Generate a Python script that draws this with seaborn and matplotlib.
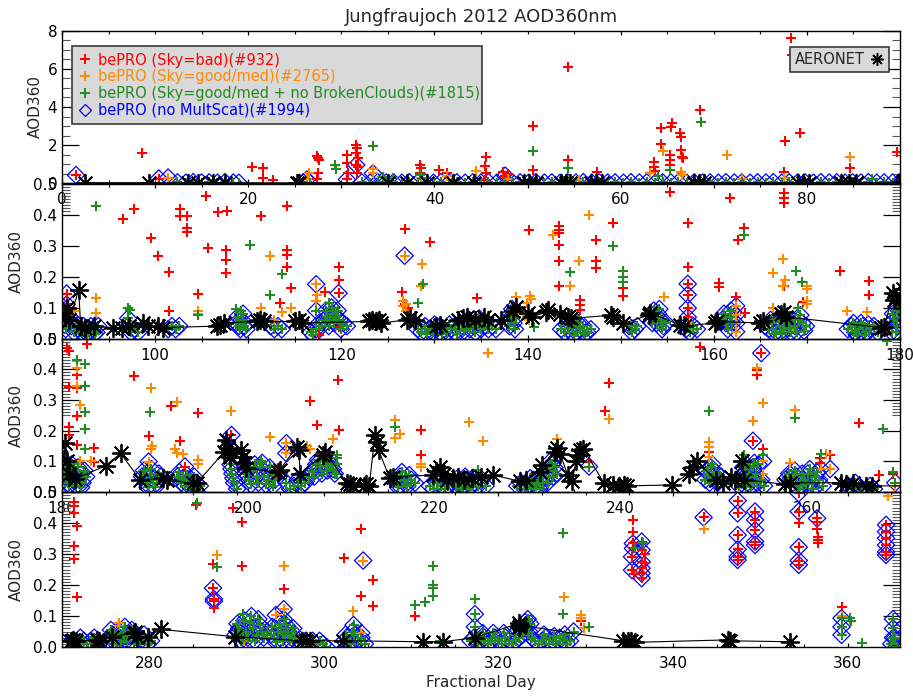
import numpy as np
import pandas as pd
import matplotlib
matplotlib.use("Agg")
import matplotlib.pyplot as plt
import seaborn as sns
from matplotlib.lines import Line2D
from matplotlib.ticker import MultipleLocator, FixedLocator, FormatStrFormatter

# ---------------------------------------------------------------------------
# AOD at 360 nm, Jungfraujoch 2012, (fractional day, AOD) pairs
# ---------------------------------------------------------------------------

# bePRO, Sky = bad
bad_q1 = [(8.6, 1.57), (20.4, 0.87), (21.6, 0.79), (21.6, 0.29), (22.7, 0.17),
          (27.4, 1.45), (27.5, 1.32), (27.6, 1.22), (27.5, 0.52), (27.4, 0.2),
          (30.6, 1.48), (30.6, 1.05), (30.7, 0.52), (31.6, 2.0), (31.7, 1.83),
          (31.6, 1.57), (31.8, 1.31), (31.8, 0.87), (31.7, 0.52), (38.5, 0.96),
          (38.6, 0.79), (38.5, 0.52), (40.5, 0.7), (41.4, 0.52), (45.5, 1.39),
          (45.4, 0.92), (45.5, 0.52), (45.4, 0.17), (47.4, 0.6), (47.9, 0.5),
          (47.8, 0.3), (50.6, 3.0), (50.6, 0.7), (54.3, 6.11), (54.3, 1.22),
          (57.5, 0.6), (63.6, 1.13), (63.6, 0.87), (63.7, 0.66), (64.3, 2.88),
          (64.3, 2.06), (65.5, 3.14), (65.4, 2.95), (65.3, 1.48), (65.3, 1.22),
          (65.3, 0.96), (66.4, 2.62), (66.5, 2.44), (66.5, 1.75), (66.6, 1.39),
          (66.7, 1.31), (68.5, 3.84), (77.6, 2.23), (77.5, 0.6), (78.3, 7.6),
          (78.4, 6.72), (79.3, 2.65), (84.6, 0.79), (89.7, 1.62)]
bad_q2 = [(105.5, 0.461), (97.7, 0.418), (96.6, 0.386), (102.7, 0.418), (102.7, 0.394),
          (103.4, 0.394), (103.4, 0.357), (103.4, 0.342), (106.8, 0.407), (107.7, 0.41),
          (99.6, 0.324), (100.3, 0.267), (101.5, 0.216), (105.7, 0.292), (107.6, 0.284),
          (107.6, 0.254), (107.6, 0.211), (104.6, 0.144), (101.5, 0.09), (111.4, 0.394),
          (114.2, 0.429), (114.2, 0.284), (114.2, 0.27), (114.2, 0.23), (114.6, 0.162),
          (113.4, 0.114), (118.2, 0.151), (119.7, 0.23), (119.7, 0.189), (119.7, 0.038),
          (126.8, 0.353), (129.5, 0.31), (126.5, 0.151), (126.8, 0.11), (127.2, 0.1),
          (90.6, 0.05), (117.6, 0.01), (140.2, 0.351), (143.4, 0.362), (143.4, 0.351),
          (143.4, 0.34), (143.4, 0.303), (143.4, 0.251), (143.4, 0.17), (147.3, 0.319),
          (147.4, 0.249), (147.4, 0.227), (149.2, 0.373), (150.2, 0.162), (150.2, 0.138),
          (145.6, 0.125), (145.6, 0.108), (145.6, 0.092), (134.6, 0.13), (157.2, 0.373),
          (157.2, 0.23), (161.7, 0.454), (163.2, 0.357), (162.6, 0.319), (160.6, 0.179),
          (160.6, 0.166), (162.4, 0.135), (163.4, 0.081), (167.5, 0.468), (167.5, 0.454),
          (167.5, 0.437), (173.6, 0.219), (176.7, 0.184), (176.7, 0.141), (179.4, 0.121),
          (167.5, 0.17), (169.6, 0.119), (155.3, 0.473)]
bad_q3 = [(180.5, 0.47), (180.7, 0.461), (182.7, 0.483), (181.6, 0.382), (181.6, 0.339),
          (180.7, 0.344), (181.6, 0.249), (180.7, 0.213), (180.7, 0.186), (181.6, 0.154),
          (183.4, 0.143), (183.4, 0.097), (187.7, 0.377), (189.3, 0.184), (191.7, 0.279),
          (192.7, 0.167), (194.6, 0.257), (198.2, 0.12), (198.2, 0.11), (206.6, 0.297),
          (207.4, 0.217), (209.6, 0.366), (209.7, 0.203), (218.6, 0.203), (218.6, 0.121),
          (203.0, 0.066), (238.7, 0.355), (238.3, 0.265), (236.6, 0.097), (248.5, 0.472),
          (249.5, 0.13), (254.6, 0.399), (254.6, 0.382), (255.3, 0.14), (265.6, 0.224),
          (267.7, 0.056), (269.2, 0.06), (261.4, 0.11), (261.4, 0.094), (262.5, 0.12)]
bad_q4 = [(271.4, 0.469), (271.4, 0.455), (271.4, 0.431), (271.7, 0.39), (271.4, 0.326),
          (271.4, 0.283), (271.7, 0.162), (289.6, 0.447), (290.6, 0.404), (287.3, 0.268),
          (290.6, 0.261), (287.4, 0.125), (295.4, 0.186), (302.3, 0.286), (304.3, 0.165),
          (305.6, 0.216), (305.6, 0.132), (304.3, 0.38), (310.4, 0.1), (285.4, 0.458),
          (329.5, 0.085), (335.4, 0.41), (335.4, 0.372), (335.5, 0.235), (356.5, 0.404),
          (356.5, 0.38), (356.6, 0.356), (356.6, 0.345), (356.6, 0.334), (354.4, 0.4),
          (359.3, 0.13), (336.8, 0.3), (336.8, 0.27)]

# bePRO, Sky = good/med
good_q1 = [(26.5, 0.52), (33.4, 0.77), (44.5, 0.63), (41.4, 0.4), (38.6, 0.3), (47.9, 0.25),
           (63.2, 0.52), (64.5, 1.71), (66.5, 0.6), (66.6, 0.45), (71.4, 1.48), (84.6, 1.39),
           (77.5, 0.3), (55.5, 0.15), (73.0, 0.2)]
good_q2 = [(93.6, 0.13), (93.6, 0.083), (112.3, 0.267), (111.4, 0.1), (113.6, 0.087),
           (114.6, 0.1), (128.7, 0.241), (128.6, 0.168), (126.6, 0.12), (126.9, 0.112),
           (126.6, 0.104), (126.9, 0.09), (117.4, 0.14), (117.3, 0.12), (104.6, 0.09),
           (104.6, 0.078), (146.6, 0.4), (142.7, 0.335), (145.5, 0.251), (144.6, 0.168),
           (138.8, 0.135), (140.3, 0.138), (140.4, 0.128), (139.9, 0.115), (154.7, 0.135),
           (166.4, 0.211), (167.4, 0.256), (167.6, 0.19), (170.0, 0.17), (170.0, 0.16),
           (167.4, 0.17), (166.4, 0.1), (170.0, 0.12), (170.0, 0.11), (176.5, 0.087),
           (174.3, 0.09), (149.2, 0.07), (139.5, 0.08), (140.2, 0.06), (157.5, 0.04),
           (168.0, 0.06), (168.5, 0.04), (145.0, 0.06), (112.8, 0.06), (91.3, 0.09)]
good_q3 = [(181.6, 0.426), (181.6, 0.404), (181.9, 0.284), (181.6, 0.345), (189.6, 0.339),
           (192.3, 0.295), (189.7, 0.15), (189.6, 0.14), (192.1, 0.14), (192.4, 0.128),
           (193.0, 0.125), (198.2, 0.265), (202.3, 0.178), (206.3, 0.15), (206.6, 0.14),
           (209.1, 0.172), (215.8, 0.235), (215.8, 0.175), (216.3, 0.19), (218.6, 0.09),
           (218.6, 0.08), (194.6, 0.105), (194.6, 0.09), (183.1, 0.1), (181.9, 0.1),
           (225.7, 0.453), (223.7, 0.228), (225.2, 0.167), (238.7, 0.239), (233.2, 0.173),
           (249.5, 0.164), (249.5, 0.148), (249.5, 0.115), (254.2, 0.232), (254.6, 0.406),
           (255.3, 0.29), (255.3, 0.06), (258.7, 0.268), (258.2, 0.094), (262.0, 0.125),
           (269.5, 0.02)]
good_q4 = [(287.7, 0.297), (295.4, 0.261), (303.3, 0.117), (276.5, 0.078), (276.5, 0.068),
           (327.5, 0.162), (329.5, 0.103), (329.5, 0.092), (343.5, 0.38), (360.3, 0.085),
           (359.3, 0.1), (364.6, 0.487), (290.8, 0.02), (323.3, 0.08), (323.0, 0.06),
           (322.0, 0.02), (329.8, 0.06), (276.0, 0.04)]

# bePRO, Sky = good/med + no broken clouds
clear_q1 = [(29.3, 0.96), (29.4, 0.76), (33.4, 1.93), (38.5, 0.45), (50.6, 1.69), (54.3, 0.79),
            (65.3, 0.7), (68.6, 3.23), (34.5, 0.35), (35.6, 0.3), (64.0, 0.4), (87.0, 0.2)]
clear_q2 = [(93.7, 0.429), (110.2, 0.303), (113.6, 0.209), (112.3, 0.141), (128.8, 0.176),
            (128.2, 0.114), (97.1, 0.098), (97.3, 0.093), (104.6, 0.076), (108.7, 0.095),
            (109.2, 0.09), (118.7, 0.116), (149.2, 0.299), (144.6, 0.216), (150.2, 0.219),
            (150.2, 0.2), (150.2, 0.181), (163.2, 0.335), (168.8, 0.219), (169.5, 0.181),
            (140.7, 0.038), (145.3, 0.07), (169.0, 0.1)]
clear_q3 = [(181.6, 0.431), (182.5, 0.417), (182.5, 0.347), (182.5, 0.26), (182.5, 0.206),
            (182.5, 0.14), (189.5, 0.262), (215.8, 0.213), (209.5, 0.12), (209.5, 0.11),
            (209.5, 0.09), (201.4, 0.1), (209.5, 0.06), (224.7, 0.072), (249.5, 0.265),
            (253.2, 0.12), (255.3, 0.12), (258.7, 0.241), (268.2, 0.206), (269.2, 0.065),
            (268.6, 0.493), (261.5, 0.125)]
clear_q4 = [(285.5, 0.463), (287.7, 0.257), (290.7, 0.106), (312.5, 0.261), (312.5, 0.2),
            (312.5, 0.19), (312.5, 0.165), (311.6, 0.146), (310.4, 0.135), (313.3, 0.02),
            (327.4, 0.367), (317.3, 0.154), (327.4, 0.106), (330.4, 0.065), (360.3, 0.093),
            (360.4, 0.085), (361.6, 0.012), (335.6, 0.32), (336.6, 0.335), (327.4, 0.03)]

# bePRO, no multiple scattering (diamonds), grouped by the sky flag of the same retrieval
multscat_bad = [(1.5, 0.43), (10.4, 0.25), (30.6, 0.2), (31.6, 0.96), (47.6, 0.4),
                (90.5, 0.145), (90.5, 0.11), (119.7, 0.146), (157.2, 0.176), (157.2, 0.141),
                (157.2, 0.098), (157.2, 0.069), (198.2, 0.186), (198.2, 0.137), (193.2, 0.083),
                (194.5, 0.0), (254.2, 0.167), (255.1, 0.453), (287.3, 0.19), (287.4, 0.155),
                (287.4, 0.148), (335.4, 0.334), (335.4, 0.318), (335.3, 0.291), (335.3, 0.248),
                (336.4, 0.34), (336.4, 0.313), (336.4, 0.275), (336.4, 0.254), (336.4, 0.238),
                (336.4, 0.222), (343.5, 0.418), (347.4, 0.472), (347.4, 0.431), (347.4, 0.361),
                (347.4, 0.315), (347.4, 0.291), (347.4, 0.281), (349.4, 0.437), (349.4, 0.41),
                (349.4, 0.377), (349.4, 0.34), (349.4, 0.329), (354.4, 0.496), (354.4, 0.437),
                (354.4, 0.322), (354.4, 0.279), (354.4, 0.265), (356.5, 0.415), (364.4, 0.394),
                (364.4, 0.372), (364.4, 0.351), (364.4, 0.329), (364.4, 0.307), (364.4, 0.297)]
multscat_good = [(11.4, 0.3), (26.3, 0.2), (33.4, 0.52), (117.3, 0.175), (126.8, 0.267),
                 (162.4, 0.105), (162.4, 0.076), (162.4, 0.049), (162.4, 0.022), (204.1, 0.159),
                 (204.1, 0.126), (189.3, 0.099), (255.3, 0.1), (261.5, 0.075), (262.5, 0.075),
                 (294.5, 0.103), (295.4, 0.122), (304.5, 0.279), (304.3, 0.045)]
multscat_clear_q1 = [(12.4, 0.05), (13.3, 0.03), (14.1, 0.06), (15.0, 0.04), (15.8, 0.05),
                     (16.7, 0.03), (17.5, 0.06), (18.4, 0.04), (19.0, 0.03), (25.9, 0.05),
                     (26.6, 0.03), (32.2, 0.05), (33.1, 0.03), (33.9, 0.06), (34.8, 0.04),
                     (35.6, 0.05), (36.5, 0.03), (37.3, 0.06), (38.2, 0.04), (39.0, 0.05),
                     (39.9, 0.03), (40.7, 0.06), (41.6, 0.04), (42.4, 0.05), (43.3, 0.03),
                     (44.1, 0.05), (45.0, 0.04), (45.8, 0.06), (46.7, 0.03), (47.5, 0.05),
                     (48.4, 0.04), (49.2, 0.05), (50.1, 0.03), (50.9, 0.06), (51.8, 0.04),
                     (52.6, 0.05), (53.5, 0.03), (54.3, 0.05), (55.2, 0.04), (56.0, 0.06),
                     (56.9, 0.03), (57.7, 0.05), (58.6, 0.04), (59.4, 0.05), (60.3, 0.03),
                     (61.1, 0.06), (62.0, 0.04), (62.8, 0.05), (63.7, 0.03), (64.5, 0.05),
                     (65.4, 0.04), (66.2, 0.06), (67.1, 0.03), (67.9, 0.05), (68.8, 0.04),
                     (69.6, 0.05), (70.5, 0.03), (71.3, 0.06), (72.2, 0.04), (73.0, 0.05),
                     (73.9, 0.03), (74.7, 0.05), (75.6, 0.04), (76.4, 0.06), (77.3, 0.03),
                     (78.1, 0.05), (79.0, 0.04), (79.8, 0.05), (80.7, 0.03), (81.5, 0.06),
                     (82.4, 0.04), (83.2, 0.05), (84.1, 0.03), (84.9, 0.05), (85.8, 0.04),
                     (86.6, 0.06), (87.5, 0.03), (88.3, 0.05), (89.2, 0.04), (89.9, 0.05)]
multscat_clear_q2 = [(90.2, 0.09), (90.3, 0.06), (90.4, 0.03), (90.8, 0.07), (91.0, 0.04),
                     (91.3, 0.02), (91.7, 0.03), (92.1, 0.02), (92.5, 0.03), (92.9, 0.02),
                     (93.3, 0.03), (93.7, 0.02), (93.9, 0.04), (97.1, 0.065), (97.1, 0.04),
                     (97.4, 0.02), (97.8, 0.03), (98.2, 0.02), (101.4, 0.03), (101.8, 0.04),
                     (102.2, 0.03), (102.6, 0.04), (108.7, 0.05), (109.0, 0.04), (109.3, 0.06),
                     (109.6, 0.04), (109.8, 0.03), (112.4, 0.04), (112.8, 0.03), (113.2, 0.04),
                     (113.6, 0.03), (116.7, 0.02), (117.0, 0.01), (117.3, 0.03), (117.3, 0.09),
                     (117.6, 0.05), (117.9, 0.04), (118.2, 0.06), (118.5, 0.07), (118.8, 0.06),
                     (119.1, 0.08), (119.4, 0.07), (119.8, 0.06), (120.2, 0.05), (120.6, 0.04),
                     (128.2, 0.03), (128.6, 0.02), (129.0, 0.04), (129.4, 0.03), (129.8, 0.02),
                     (130.2, 0.03), (130.6, 0.04), (131.0, 0.03), (131.4, 0.02), (131.8, 0.03),
                     (132.2, 0.04), (132.6, 0.03), (133.0, 0.04), (133.4, 0.05), (133.8, 0.03),
                     (134.2, 0.04), (134.6, 0.05), (135.0, 0.03), (135.4, 0.04), (135.8, 0.03),
                     (136.2, 0.04), (136.6, 0.03), (137.9, 0.06), (138.2, 0.08), (138.5, 0.05),
                     (138.8, 0.07), (143.6, 0.03), (144.0, 0.02), (144.4, 0.03), (144.8, 0.04),
                     (145.2, 0.02), (145.6, 0.03), (146.0, 0.04), (146.4, 0.02), (146.8, 0.03),
                     (150.9, 0.04), (151.2, 0.02), (151.5, 0.03), (151.8, 0.04), (153.4, 0.05),
                     (153.7, 0.07), (154.0, 0.08), (154.3, 0.06), (154.6, 0.04), (154.9, 0.05),
                     (157.0, 0.03), (157.4, 0.02), (157.8, 0.04), (158.2, 0.03), (160.9, 0.06),
                     (161.3, 0.05), (161.7, 0.07), (162.0, 0.05), (165.5, 0.04), (165.9, 0.03),
                     (166.3, 0.05), (166.7, 0.02), (167.1, 0.04), (167.5, 0.03), (167.9, 0.05),
                     (168.3, 0.02), (168.7, 0.04), (169.1, 0.06), (169.5, 0.05), (169.9, 0.04),
                     (174.4, 0.03), (174.8, 0.04), (175.2, 0.02), (175.6, 0.03), (176.0, 0.04),
                     (176.4, 0.02), (176.8, 0.03), (177.2, 0.04), (177.6, 0.02), (179.1, 0.02),
                     (179.4, 0.06), (179.7, 0.04), (179.9, 0.09),
                     (90.25, 0.045), (90.6, 0.08), (90.6, 0.05), (91.15, 0.06), (91.5, 0.04),
                     (92.3, 0.04), (92.7, 0.015), (93.1, 0.04), (93.5, 0.015), (108.85, 0.07),
                     (109.15, 0.03), (109.45, 0.08), (118.35, 0.09), (118.65, 0.04), (118.95, 0.1),
                     (119.25, 0.05), (119.6, 0.09), (119.95, 0.03), (129.2, 0.015), (130.0, 0.045),
                     (130.8, 0.015), (131.6, 0.045), (132.4, 0.015), (133.2, 0.025), (133.6, 0.06),
                     (134.4, 0.02), (134.8, 0.065), (135.2, 0.05), (138.05, 0.04), (138.35, 0.095),
                     (138.65, 0.03), (144.2, 0.045), (145.0, 0.01), (145.4, 0.05), (146.2, 0.015),
                     (153.55, 0.09), (153.85, 0.05), (154.15, 0.095), (154.45, 0.03), (161.1, 0.08),
                     (161.5, 0.03), (161.85, 0.09), (166.1, 0.06), (166.5, 0.015), (166.9, 0.065),
                     (167.3, 0.015), (167.7, 0.06), (168.1, 0.035), (168.5, 0.06), (168.9, 0.02),
                     (169.3, 0.075), (169.7, 0.025), (175.0, 0.05), (175.4, 0.01), (175.8, 0.05),
                     (176.2, 0.01), (176.6, 0.045), (179.25, 0.08), (179.55, 0.02), (179.8, 0.07)]
multscat_clear_q3 = [(180.2, 0.08), (180.4, 0.05), (180.6, 0.03), (180.9, 0.07), (181.2, 0.04),
                     (181.5, 0.02), (181.9, 0.06), (182.2, 0.03), (182.6, 0.05), (188.6, 0.05),
                     (189.0, 0.03), (189.4, 0.06), (189.8, 0.04), (190.2, 0.03), (190.6, 0.05),
                     (192.4, 0.05), (192.8, 0.03), (193.2, 0.02), (193.6, 0.04), (194.0, 0.01),
                     (194.4, 0.03), (194.8, 0.02), (198.1, 0.09), (198.3, 0.06), (198.5, 0.03),
                     (198.8, 0.01), (199.7, 0.06), (200.1, 0.04), (200.5, 0.07), (200.9, 0.05),
                     (201.3, 0.08), (201.7, 0.05), (202.1, 0.04), (202.5, 0.06), (202.9, 0.04),
                     (204.1, 0.03), (204.5, 0.01), (204.9, 0.02), (205.3, 0.04), (205.7, 0.02),
                     (206.1, 0.03), (206.5, 0.05), (206.9, 0.07), (207.3, 0.09), (207.7, 0.08),
                     (208.1, 0.1), (208.5, 0.07), (208.9, 0.09), (209.3, 0.06), (215.9, 0.03),
                     (216.3, 0.05), (216.7, 0.04), (217.1, 0.02), (217.5, 0.04), (217.9, 0.03),
                     (219.5, 0.02), (219.9, 0.01), (220.3, 0.03), (220.7, 0.02), (221.1, 0.01),
                     (221.5, 0.02), (221.9, 0.03), (222.3, 0.02), (222.7, 0.03), (223.1, 0.01),
                     (223.5, 0.04), (223.9, 0.02), (224.3, 0.03), (224.7, 0.02), (225.1, 0.04),
                     (225.5, 0.02), (228.9, 0.02), (229.3, 0.03), (229.7, 0.01), (230.1, 0.02),
                     (230.5, 0.03), (230.9, 0.02), (231.3, 0.01), (231.7, 0.03), (232.0, 0.05),
                     (232.3, 0.07), (232.6, 0.09), (232.9, 0.08), (233.2, 0.06), (236.6, 0.083),
                     (249.1, 0.04), (249.4, 0.06), (249.7, 0.08), (250.0, 0.05), (250.4, 0.03),
                     (250.8, 0.05), (252.7, 0.02), (253.0, 0.04), (253.3, 0.06), (253.5, 0.09),
                     (253.6, 0.03), (253.9, 0.05), (254.2, 0.08), (254.5, 0.06), (254.8, 0.09),
                     (255.1, 0.04), (255.4, 0.02), (257.7, 0.04), (258.1, 0.06), (258.5, 0.03),
                     (258.9, 0.05), (259.3, 0.02), (259.7, 0.04), (260.1, 0.06), (260.5, 0.03),
                     (260.9, 0.05), (261.3, 0.04), (261.7, 0.02), (264.4, 0.02), (264.8, 0.01),
                     (265.2, 0.03), (265.6, 0.02), (266.4, 0.01), (266.8, 0.02), (267.2, 0.01),
                     (269.5, 0.03),
                     (180.3, 0.1), (180.5, 0.065), (180.75, 0.02), (181.05, 0.09), (181.35, 0.055),
                     (181.7, 0.08), (182.05, 0.015), (182.4, 0.07), (188.8, 0.07), (189.2, 0.015),
                     (189.6, 0.075), (190.0, 0.015), (190.4, 0.06), (192.6, 0.065), (193.0, 0.045),
                     (193.4, 0.055), (193.8, 0.015), (194.2, 0.05), (198.2, 0.075), (198.4, 0.045),
                     (199.9, 0.08), (200.3, 0.025), (200.7, 0.09), (201.1, 0.03), (201.5, 0.095),
                     (201.9, 0.025), (202.3, 0.08), (202.7, 0.02), (207.1, 0.05), (207.5, 0.105),
                     (207.9, 0.06), (208.3, 0.085), (208.7, 0.11), (209.1, 0.075), (216.1, 0.015),
                     (216.5, 0.065), (216.9, 0.025), (217.3, 0.055), (222.5, 0.045), (222.9, 0.015),
                     (223.3, 0.05), (223.7, 0.01), (224.1, 0.045), (230.3, 0.045), (230.7, 0.01),
                     (231.1, 0.04), (232.15, 0.03), (232.45, 0.1), (232.75, 0.05), (249.25, 0.07),
                     (249.55, 0.03), (249.85, 0.09), (250.2, 0.065), (253.15, 0.08), (253.45, 0.015),
                     (253.75, 0.075), (254.05, 0.02), (254.35, 0.095), (254.65, 0.03), (258.3, 0.045),
                     (258.7, 0.07), (259.1, 0.01), (259.5, 0.06), (259.9, 0.025), (260.3, 0.075),
                     (260.7, 0.01), (261.1, 0.065)]
multscat_clear_q4 = [(271.3, 0.02), (271.7, 0.01), (272.1, 0.03), (272.5, 0.02), (272.9, 0.01),
                     (273.3, 0.02), (273.7, 0.03), (274.1, 0.02), (275.4, 0.02), (275.8, 0.04),
                     (276.2, 0.01), (276.6, 0.03), (277.0, 0.05), (277.4, 0.02), (277.8, 0.04),
                     (278.2, 0.01), (278.6, 0.03), (279.0, 0.02), (279.4, 0.04), (279.8, 0.01),
                     (280.2, 0.02), (289.9, 0.04), (290.2, 0.053), (290.3, 0.06), (290.7, 0.03),
                     (291.1, 0.05), (291.5, 0.08), (291.9, 0.06), (292.3, 0.04), (292.7, 0.07),
                     (293.1, 0.03), (293.5, 0.05), (293.9, 0.04), (294.3, 0.03), (294.7, 0.05),
                     (295.1, 0.06), (295.4, 0.09), (295.5, 0.04), (295.9, 0.05), (296.3, 0.03),
                     (296.7, 0.04), (297.1, 0.02), (297.5, 0.01), (297.9, 0.02), (298.3, 0.01),
                     (298.7, 0.02), (299.1, 0.01), (299.5, 0.02), (299.9, 0.01), (300.3, 0.0),
                     (302.3, 0.02), (302.7, 0.03), (303.1, 0.01), (303.4, 0.071), (303.5, 0.04),
                     (303.9, 0.02), (304.3, 0.03), (304.7, 0.01), (316.8, 0.02), (317.2, 0.03),
                     (317.3, 0.106), (317.3, 0.065), (317.6, 0.01), (318.0, 0.02), (318.4, 0.03),
                     (318.8, 0.01), (319.2, 0.02), (319.6, 0.03), (320.0, 0.02), (320.4, 0.01),
                     (320.8, 0.03), (321.2, 0.02), (321.6, 0.01), (322.0, 0.02), (322.4, 0.03),
                     (322.9, 0.06), (323.2, 0.07), (323.5, 0.05), (323.8, 0.03), (324.2, 0.02),
                     (324.6, 0.01), (325.0, 0.02), (325.4, 0.03), (325.8, 0.01), (326.2, 0.02),
                     (326.6, 0.01), (327.0, 0.03), (327.4, 0.02), (327.8, 0.01), (328.2, 0.02),
                     (328.6, 0.05), (359.3, 0.093), (359.3, 0.065), (359.3, 0.039), (365.0, 0.01),
                     (365.2, 0.09), (365.2, 0.06), (365.2, 0.03), (365.4, 0.03), (365.6, 0.0),
                     (275.6, 0.055), (276.0, 0.025), (276.4, 0.05), (276.8, 0.015), (277.2, 0.065),
                     (277.6, 0.035), (278.0, 0.055), (278.4, 0.045), (290.1, 0.075), (290.5, 0.02),
                     (290.9, 0.085), (291.3, 0.03), (291.7, 0.1), (292.1, 0.02), (292.5, 0.09),
                     (292.9, 0.05), (294.1, 0.065), (294.5, 0.015), (294.9, 0.075), (295.3, 0.02),
                     (295.7, 0.07), (296.1, 0.02), (296.5, 0.06), (302.5, 0.04), (302.9, 0.01),
                     (303.3, 0.05), (323.05, 0.08), (323.35, 0.09), (323.65, 0.075), (322.8, 0.04),
                     (318.2, 0.045), (319.4, 0.045), (320.6, 0.045), (321.8, 0.04), (325.2, 0.04),
                     (326.4, 0.035), (327.6, 0.04)]

# AERONET
aeronet_q1 = [(2.5, 0.03), (9.3, 0.03), (13.5, 0.02), (14.6, 0.03), (16.2, 0.02), (17.5, 0.03),
              (25.2, 0.02), (25.5, 0.03), (35.0, 0.03), (37.1, 0.02), (39.2, 0.03), (42.0, 0.02),
              (44.3, 0.03), (49.6, 0.03), (50.2, 0.04), (50.9, 0.03), (53.6, 0.03), (54.1, 0.04),
              (54.6, 0.03), (56.8, 0.03), (57.4, 0.04), (58.0, 0.03), (67.9, 0.03), (68.4, 0.04),
              (68.9, 0.03), (79.0, 0.03), (79.6, 0.04), (80.2, 0.03), (83.7, 0.03), (84.5, 0.04),
              (85.3, 0.03)]
aeronet_q2 = [(90.3, 0.07), (90.5, 0.1), (90.8, 0.06), (91.8, 0.157), (92.0, 0.04), (92.5, 0.035),
              (93.4, 0.04), (95.5, 0.035), (96.4, 0.034), (97.2, 0.04), (98.7, 0.049), (99.2, 0.04),
              (100.3, 0.04), (100.8, 0.035), (106.6, 0.04), (107.0, 0.044), (107.4, 0.05),
              (110.9, 0.055), (111.3, 0.06), (111.7, 0.055), (115.0, 0.055), (115.4, 0.06),
              (115.8, 0.05), (123.0, 0.055), (123.3, 0.06), (123.7, 0.055), (124.0, 0.06),
              (124.3, 0.05), (127.0, 0.06), (127.4, 0.065), (127.9, 0.06), (130.2, 0.04),
              (130.6, 0.045), (132.5, 0.06), (133.1, 0.065), (133.5, 0.07), (134.4, 0.06),
              (135.3, 0.07), (135.7, 0.06), (137.2, 0.06), (138.4, 0.09), (138.8, 0.103),
              (140.1, 0.081), (140.5, 0.07), (142.0, 0.085), (142.2, 0.092), (143.5, 0.08),
              (144.3, 0.07), (144.7, 0.065), (149.0, 0.075), (149.2, 0.07), (150.3, 0.049),
              (153.0, 0.075), (153.2, 0.081), (156.4, 0.044), (156.8, 0.04), (160.1, 0.05),
              (160.3, 0.055), (165.0, 0.05), (165.3, 0.055), (167.2, 0.08), (167.5, 0.087),
              (167.8, 0.07), (178.0, 0.035), (178.3, 0.038), (179.3, 0.146), (179.4, 0.125),
              (179.6, 0.135)]
aeronet_q3 = [(180.3, 0.159), (180.5, 0.1), (180.8, 0.06), (181.4, 0.042), (184.7, 0.086),
              (186.3, 0.126), (188.4, 0.039), (190.9, 0.045), (191.3, 0.04), (194.1, 0.028),
              (194.5, 0.03), (197.4, 0.13), (197.6, 0.17), (197.8, 0.143), (198.0, 0.115),
              (199.2, 0.137), (199.4, 0.115), (199.6, 0.094), (199.8, 0.077), (203.2, 0.065),
              (203.4, 0.072), (205.2, 0.148), (205.4, 0.137), (205.6, 0.06), (208.0, 0.12),
              (208.2, 0.132), (210.6, 0.03), (210.9, 0.025), (211.3, 0.02), (212.4, 0.02),
              (212.7, 0.025), (213.0, 0.02), (213.6, 0.186), (213.8, 0.164), (214.0, 0.137),
              (215.2, 0.045), (215.5, 0.05), (219.8, 0.055), (220.2, 0.07), (220.6, 0.08),
              (221.0, 0.06), (221.4, 0.04), (222.0, 0.045), (222.5, 0.05), (223.2, 0.04),
              (224.0, 0.045), (225.0, 0.05), (226.3, 0.055), (229.2, 0.035), (229.8, 0.04),
              (231.3, 0.066), (231.6, 0.088), (232.9, 0.132), (233.2, 0.143), (233.5, 0.125),
              (234.3, 0.056), (234.8, 0.035), (235.2, 0.1), (235.4, 0.12), (235.6, 0.137),
              (236.0, 0.14), (238.2, 0.03), (239.2, 0.023), (239.8, 0.02), (240.4, 0.023),
              (240.7, 0.02), (245.5, 0.023), (247.3, 0.06), (247.8, 0.08), (248.2, 0.1),
              (250.2, 0.04), (251.0, 0.03), (251.8, 0.05), (252.3, 0.04), (253.0, 0.1),
              (253.2, 0.04), (257.7, 0.025), (258.2, 0.03), (263.7, 0.03), (264.2, 0.025),
              (265.0, 0.03), (266.3, 0.02), (267.0, 0.02)]
aeronet_q4 = [(271.0, 0.02), (271.3, 0.023), (271.6, 0.02), (274.0, 0.023), (274.2, 0.02),
              (275.7, 0.033), (278.2, 0.045), (278.4, 0.049), (278.6, 0.033), (279.9, 0.033),
              (281.3, 0.057), (289.8, 0.033), (297.5, 0.02), (297.9, 0.018), (298.4, 0.02),
              (302.2, 0.02), (311.4, 0.017), (313.6, 0.017), (317.3, 0.03), (322.3, 0.076),
              (322.4, 0.065), (322.5, 0.07), (334.3, 0.02), (334.8, 0.018), (335.2, 0.02),
              (335.6, 0.015), (346.3, 0.023), (346.5, 0.02), (353.4, 0.017)]

legend_labels = ["bePRO (Sky=bad)(#932)", "bePRO (Sky=good/med)(#2765)",
                 "bePRO (Sky=good/med + no BrokenClouds)(#1815)", "bePRO (no MultScat)(#1994)"]
title = "Jungfraujoch 2012 AOD360nm"

# ---------------------------------------------------------------------------
RED, ORANGE, GREEN, BLUE = "#ff0000", "#ff8a00", "#238b23", "#0000ff"
multscat_clear = multscat_clear_q1 + multscat_clear_q2 + multscat_clear_q3 + multscat_clear_q4


def frame(pairs):
    return pd.DataFrame(pairs, columns=["day", "aod"])


red_df = frame(bad_q1 + bad_q2 + bad_q3 + bad_q4 + multscat_bad)
orange_df = frame(good_q1 + good_q2 + good_q3 + good_q4 + multscat_good)
green_df = frame(clear_q1 + clear_q2 + clear_q3 + clear_q4 + multscat_clear)
blue_df = frame(multscat_bad + multscat_good + multscat_clear)
aer_df = frame(aeronet_q1 + aeronet_q2 + aeronet_q3 + aeronet_q4).sort_values("day")

sns.set_style("ticks")
plt.rcParams["font.family"] = ["DejaVu Sans"]
plt.rcParams["axes.linewidth"] = 1.0

W, H = 913, 696
fig = plt.figure(figsize=(W / 100, H / 100), dpi=100)


def rect(top, bottom, left=62, right=900):
    return [left / W, 1 - bottom / H, (right - left) / W, (bottom - top) / H]


panels = [
    dict(xlim=(0, 90), ylim=(0, 8), box=rect(30.7, 183.3)),
    dict(xlim=(90, 180), ylim=(0, 0.5), box=rect(183.5, 338.5)),
    dict(xlim=(180, 270), ylim=(0, 0.5), box=rect(338.7, 492)),
    dict(xlim=(270, 366), ylim=(0, 0.5), box=rect(492, 647)),
]
dense_minor = [np.round(np.arange(0.41, 0.495, 0.01), 2),
               np.round(np.arange(0.25, 0.495, 0.01), 2),
               np.round(np.arange(0.01, 0.495, 0.01), 2)]

PLUS = dict(marker="+", s=60, linewidth=1.5, legend=False)
axes = []
for i, p in enumerate(panels):
    ax = fig.add_axes(p["box"])
    ax.patch.set_alpha(0)
    axes.append(ax)

    # diamonds first, so the plus of the same retrieval sits on top of them
    sns.lineplot(data=aer_df, x="day", y="aod", ax=ax, color="black", lw=0.8,
                 estimator=None, sort=True, legend=False)
    sns.scatterplot(data=blue_df, x="day", y="aod", ax=ax, marker="D", s=78,
                    color=BLUE, facecolor="none", edgecolor=BLUE, linewidth=0.9,
                    legend=False)
    sns.scatterplot(data=red_df, x="day", y="aod", ax=ax, color=RED, **PLUS)
    sns.scatterplot(data=orange_df, x="day", y="aod", ax=ax, color=ORANGE, **PLUS)
    sns.scatterplot(data=green_df, x="day", y="aod", ax=ax, color=GREEN, **PLUS)
    sns.scatterplot(data=aer_df, x="day", y="aod", ax=ax, marker=(8, 2, 0), s=160,
                    color="black", linewidth=1.3, legend=False)

    ax.set_xlim(*p["xlim"])
    ax.set_ylim(*p["ylim"])
    ax.xaxis.set_major_locator(MultipleLocator(20))
    ax.xaxis.set_minor_locator(MultipleLocator(5))
    if i == 0:
        ax.yaxis.set_major_locator(MultipleLocator(2))
        ax.yaxis.set_minor_locator(MultipleLocator(0.5))
        ax.yaxis.set_major_formatter(FormatStrFormatter("%d"))
        ax.yaxis.set_label_coords((43 - 62) / 838, 0.5)
    else:
        ax.yaxis.set_major_locator(MultipleLocator(0.1))
        ax.yaxis.set_minor_locator(FixedLocator(dense_minor[min(i - 1, 2)]))
        ax.yaxis.set_major_formatter(FormatStrFormatter("%.1f"))
        ax.yaxis.set_label_coords((24 - 62) / 838, 0.5)
    ax.tick_params(axis="both", which="both", direction="in", top=True, right=True,
                   colors="black", labelsize=11)
    ax.tick_params(axis="y", which="major", length=12, width=0.9, pad=3.5)
    ax.tick_params(axis="y", which="minor", length=5.8, width=0.8, color="#555555")
    ax.tick_params(axis="x", which="major", length=3, width=0.9, pad=6.5)
    ax.tick_params(axis="x", which="minor", length=2.2, width=0.8)
    ax.set_ylabel("AOD360", fontsize=11)
    ax.set_xlabel("")
    for s in ax.spines.values():
        s.set_color("black")
        s.set_linewidth(1.0)

axes[0].set_title(title, fontsize=13, pad=6)
axes[3].set_xlabel("Fractional Day", fontsize=11, labelpad=3)

handles = [
    Line2D([], [], ls="none", marker="+", color=RED, ms=7.5, mew=1.4),
    Line2D([], [], ls="none", marker="+", color=ORANGE, ms=7.5, mew=1.4),
    Line2D([], [], ls="none", marker="+", color=GREEN, ms=7.5, mew=1.4),
    Line2D([], [], ls="none", marker="D", mfc="none", mec=BLUE, ms=6.5, mew=0.9),
]
leg = axes[0].legend(handles, legend_labels, loc="upper left",
                     bbox_to_anchor=((72 - 62) / 838, 0, (482 - 72) / 838, (183.3 - 46) / 152.6),
                     mode="expand", borderaxespad=0, fontsize=10.5, labelspacing=0.12,
                     handlelength=0.9, handletextpad=0.45, borderpad=0.45, frameon=True,
                     fancybox=False, labelcolor=[RED, ORANGE, GREEN, BLUE])
leg.get_frame().set_facecolor("#d9d9d9")
leg.get_frame().set_edgecolor("#3a3a3a")
leg.get_frame().set_linewidth(1.2)
leg.get_frame().set_alpha(1)
axes[0].add_artist(leg)

aer_handle = Line2D([], [], ls="none", marker=(8, 2, 0), color="black", ms=9, mew=1.1)
leg2 = axes[0].legend([aer_handle], ["AERONET"], loc="upper right",
                      bbox_to_anchor=((889 - 62) / 838, (183.3 - 47) / 152.6),
                      borderaxespad=0, fontsize=10.5, markerfirst=False, handlelength=0.9,
                      handletextpad=0.4, borderpad=0.35, frameon=True, fancybox=False)
leg2.get_frame().set_facecolor("#d9d9d9")
leg2.get_frame().set_edgecolor("#3a3a3a")
leg2.get_frame().set_linewidth(1.2)
leg2.get_frame().set_alpha(1)

fig.savefig("out.png", dpi=100)
